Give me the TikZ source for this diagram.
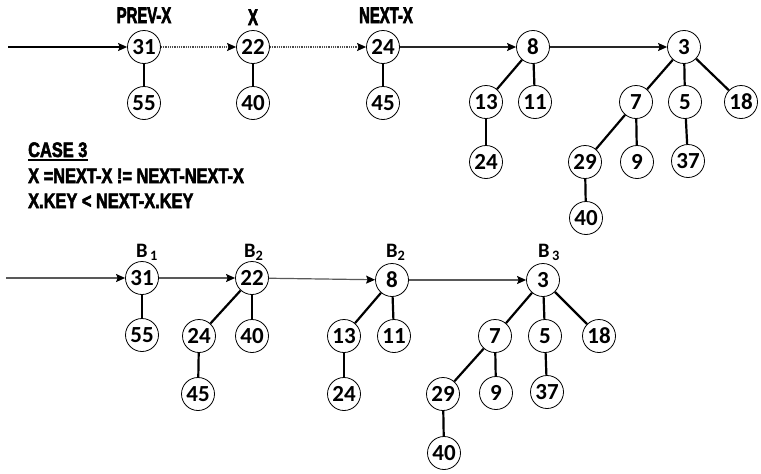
\documentclass[tikz,border=0pt]{standalone}
\usepackage{fontspec}
\setmainfont{Carlito}
\newfontfamily\impactA[FakeStretch=0.66,FakeBold=2.5]{Liberation Sans}
\newfontfamily\impactB[FakeStretch=0.78,FakeBold=2.5]{Liberation Sans}
\usetikzlibrary{arrows.meta}
\tikzset{
  nd/.style={circle,draw,line width=0.8pt,minimum size=33pt,inner sep=0pt,font=\fontsize{23}{23}\selectfont\bfseries},
  edge/.style={line width=2.2pt,black},
  lnk/.style={line width=1.2pt,-{Stealth[length=9pt,width=8pt,inset=1.5pt,color=black]}},
  head/.style={anchor=base,inner sep=0pt,font=\impactA\bfseries\fontsize{22.5}{22.5}\selectfont},
  blab/.style={anchor=base west,inner sep=0pt,font=\fontsize{20.5}{20.5}\selectfont\bfseries},
  txt/.style={anchor=base west,inner sep=0pt,font=\impactB\bfseries\fontsize{21}{21}\selectfont}
}
\begin{document}
\begin{tikzpicture}[x=1pt,y=-1pt]
\useasboundingbox (0,0) rectangle (761,474);
% ---------- top row ----------
\coordinate (tstart) at (8,47);
\node[nd] (t31) at (144,47) {31};
\node[nd] (t22) at (253,47) {22};
\node[nd] (t24) at (383,47) {24};
\node[nd] (t8) at (533,47) {8};
\node[nd] (t3) at (684,47) {3};
\node[nd] (t55) at (144,103) {55};
\node[nd] (t40) at (253,103) {40};
\node[nd] (t45) at (383,103) {45};
\node[nd] (t13) at (486,102) {13};
\node[nd] (t11) at (535,102) {11};
\node[nd] (t24b) at (486,162) {24};
\node[nd] (t7) at (636,102) {7};
\node[nd] (t5) at (685,102) {5};
\node[nd] (t18) at (741,102) {18};
\node[nd] (t29) at (585,162) {29};
\node[nd] (t9) at (637,162) {9};
\node[nd] (t37) at (688,161) {37};
\node[nd] (t40b) at (586,218) {40};
\node[head] (hprev) at (144,23) {PREV-X};
\node[head] (hx) at (253,25) {X};
\node[head] (hnext) at (386,23) {NEXT-X};
\draw[lnk,black] (tstart) -- (t31);
\draw[lnk,black!70,dash pattern=on 1pt off 0.8pt] (t31) -- (t22);
\draw[lnk,black!70,dash pattern=on 1pt off 0.8pt] (t22) -- (t24);
\draw[lnk,black!85] (t24) -- (t8);
\draw[lnk,black!85] (t8) -- (t3);
\draw[edge] (t31) -- (t55);
\draw[edge] (t22) -- (t40);
\draw[edge] (t24) -- (t45);
\draw[edge] (t8) -- (t13);
\draw[edge] (t8) -- (t11);
\draw[edge] (t13) -- (t24b);
\draw[edge] (t3) -- (t7);
\draw[edge] (t3) -- (t5);
\draw[edge] (t3) -- (t18);
\draw[edge] (t7) -- (t29);
\draw[edge] (t7) -- (t9);
\draw[edge] (t5) -- (t37);
\draw[edge] (t29) -- (t40b);
% ---------- case text ----------
\node[txt] (case) at (28,157) {CASE 3};
\draw[line width=1.6pt] ([yshift=-2.5pt]case.south west) -- ([yshift=-2.5pt]case.south east);
\node[txt] (l2) at (28,183) {X =NEXT-X != NEXT-NEXT-X};
\node[txt] (l3) at (28,208) {X.KEY < NEXT-X.KEY};
% ---------- bottom row ----------
\coordinate (bstart) at (6,278);
\node[nd] (b31) at (142,278) {31};
\node[nd] (b22) at (252,278) {22};
\node[nd] (b8) at (392,280) {8};
\node[nd] (b3) at (543,280) {3};
\node[nd] (b55) at (142,335) {55};
\node[nd] (b24) at (199,336) {24};
\node[nd] (b40) at (252,336) {40};
\node[nd] (b45) at (198,394) {45};
\node[nd] (b13) at (344,336) {13};
\node[nd] (b11) at (394,336) {11};
\node[nd] (b24b) at (344,394) {24};
\node[nd] (b7) at (495,336) {7};
\node[nd] (b5) at (545,336) {5};
\node[nd] (b18) at (599,336) {18};
\node[nd] (b29) at (443,394) {29};
\node[nd] (b9) at (496,393) {9};
\node[nd] (b37) at (547,392) {37};
\node[nd] (b40b) at (444,453) {40};
\node[blab] (lb1) at (136,257) {B\textsubscript{\,1}};
\node[blab] (lb2) at (244,257) {B\textsubscript{2}};
\node[blab] (lb3) at (386,257) {B\textsubscript{2}};
\node[blab] (lb4) at (538,257) {B\textsubscript{\,3}};
\draw[lnk,black!65] (bstart) -- (b31);
\draw[lnk,black!65] (b31) -- (b22);
\draw[lnk,black!65] (b22) -- (b8);
\draw[lnk,black!65] (b8) -- (b3);
\draw[edge] (b31) -- (b55);
\draw[edge] (b22) -- (b24);
\draw[edge] (b22) -- (b40);
\draw[edge] (b24) -- (b45);
\draw[edge] (b8) -- (b13);
\draw[edge] (b8) -- (b11);
\draw[edge] (b13) -- (b24b);
\draw[edge] (b3) -- (b7);
\draw[edge] (b3) -- (b5);
\draw[edge] (b3) -- (b18);
\draw[edge] (b7) -- (b29);
\draw[edge] (b7) -- (b9);
\draw[edge] (b5) -- (b37);
\draw[edge] (b29) -- (b40b);
\end{tikzpicture}
\end{document}
